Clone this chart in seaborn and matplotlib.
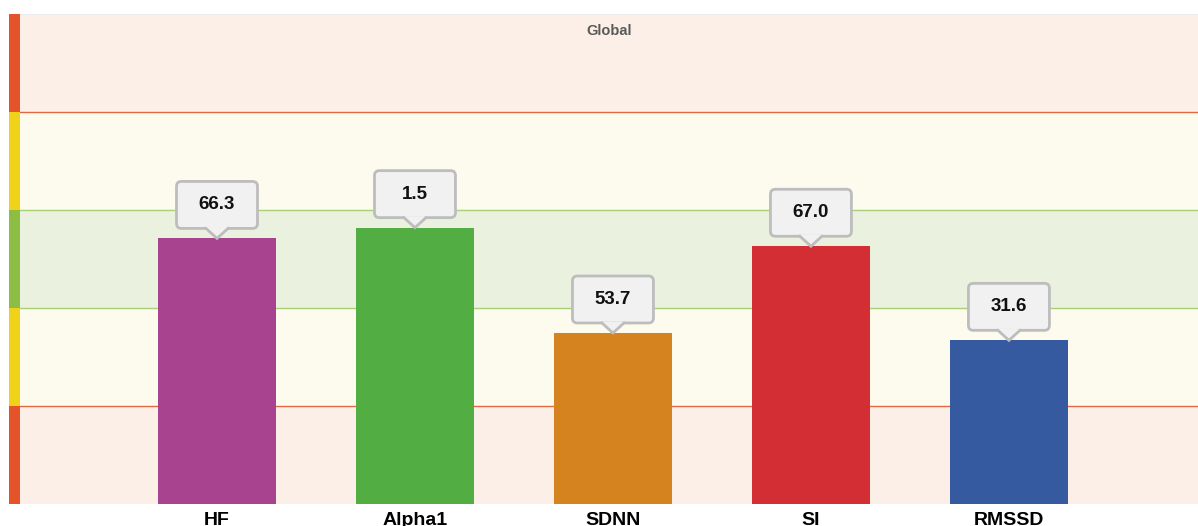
import matplotlib
matplotlib.use("Agg")
import matplotlib.pyplot as plt
import matplotlib.transforms as mtrans
from matplotlib.patches import FancyBboxPatch, Polygon, Rectangle
import pandas as pd
import seaborn as sns

# data
metrics = ['HF', 'Alpha1', 'SDNN', 'SI', 'RMSSD']
scores = [2.71, 2.82, 1.745, 2.63, 1.67]          # bar height on the 0-5 zone scale
shown_values = ['66.3', '1.5', '53.7', '67.0', '31.6']
bar_colors = ['#a8448f', '#52ad42', '#d4831e', '#d42e35', '#355aa0']

zone_edges = [0, 1, 2, 3, 4, 5]
zone_fill = ['#fcefe7', '#fdfaee', '#eaf2df', '#fdfaee', '#fcefe7']
zone_strip = ['#e4532a', '#f0d21a', '#8cbe44', '#f0d21a', '#e4532a']
zone_lines = {1: '#e2683f', 2: '#a9cf78', 3: '#a9cf78', 4: '#e2683f'}

df = pd.DataFrame({'metric': metrics, 'score': scores})

plt.rcParams['font.family'] = ['Liberation Sans', 'DejaVu Sans']
fig = plt.figure(figsize=(11.98, 5.26), dpi=100)
ax = fig.add_axes([20/1198, 22/526, 1178/1198, 490/526])

# zone background
for i in range(len(zone_fill)):
    ax.axhspan(zone_edges[i], zone_edges[i+1], color=zone_fill[i], zorder=0, lw=0)
for lvl, c in zone_lines.items():
    ax.axhline(lvl, color=c, lw=1.0, zorder=1)
ax.axhline(5, color='#ececec', lw=1.5, zorder=1)

# side strip
blend = mtrans.blended_transform_factory(ax.transAxes, ax.transData)
for i in range(len(zone_strip)):
    ax.add_patch(Rectangle((-11/1178, zone_edges[i]), 11/1178, 1, transform=blend,
                           color=zone_strip[i], clip_on=False, lw=0, zorder=3))

sns.barplot(data=df, x='metric', y='score', hue='metric', palette=bar_colors,
            width=0.6, legend=False, ax=ax, zorder=2, saturation=1)

ax.set_xlim(-0.995, 4.955)
ax.set_ylim(0, 5)
ax.set_xlabel('')
ax.set_ylabel('')
ax.set_yticks([])
ax.tick_params(axis='x', length=0, pad=6)
for lab in ax.get_xticklabels():
    lab.set_fontweight('bold')
    lab.set_fontsize(14)
for s in ax.spines.values():
    s.set_visible(False)

# callouts
for i, (h, txt) in enumerate(zip(scores, shown_values)):
    tr = fig.dpi_scale_trans + mtrans.ScaledTranslation(i, h, ax.transData)
    box = FancyBboxPatch((-0.405, 0.10), 0.81, 0.47, boxstyle='round,pad=0,rounding_size=0.05',
                         fc='#f1f1f1', ec='#bdbdbd', lw=2, transform=tr, zorder=5, clip_on=False)
    ax.add_patch(box)
    tri = Polygon([(-0.11, 0.115), (0.11, 0.115), (0, 0.0)], closed=True, fc='#f1f1f1',
                  ec='none', transform=tr, zorder=6, clip_on=False)
    ax.add_patch(tri)
    ax.plot([-0.11, 0, 0.11], [0.10, 0.0, 0.10], color='#bdbdbd', lw=2,
            transform=tr, zorder=7, clip_on=False, solid_joinstyle='miter')
    ax.text(0, 0.335, txt, transform=tr, ha='center', va='center', fontsize=13.5,
            fontweight='bold', color='#111111', zorder=8)

ax.text(0.5, 0.965, 'Global', transform=ax.transAxes, ha='center', va='center',
        fontsize=10.5, fontweight='bold', color='#5a5a5a')

fig.savefig('out.png', dpi=100)
